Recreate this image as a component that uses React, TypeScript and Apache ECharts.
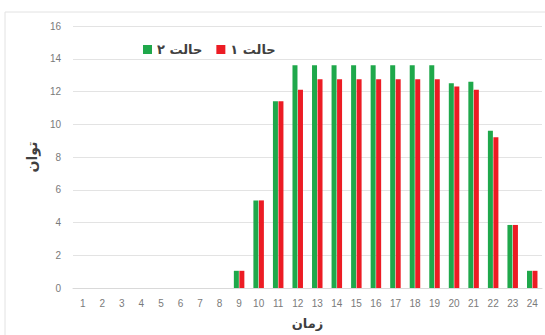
import React, { useEffect, useRef } from "react";
import * as echarts from "echarts";

// Hours of the day
const hours = [
  "1", "2", "3", "4", "5", "6", "7", "8", "9", "10", "11", "12",
  "13", "14", "15", "16", "17", "18", "19", "20", "21", "22", "23", "24",
];

// Power per hour, case 2 (green)
const case2 = [
  0, 0, 0, 0, 0, 0, 0, 0, 1.05, 5.35, 11.4, 13.6,
  13.6, 13.6, 13.6, 13.6, 13.6, 13.6, 13.6, 12.5, 12.6, 9.6, 3.85, 1.05,
];

// Power per hour, case 1 (red)
const case1 = [
  0, 0, 0, 0, 0, 0, 0, 0, 1.05, 5.35, 11.4, 12.1,
  12.75, 12.75, 12.75, 12.75, 12.75, 12.75, 12.75, 12.3, 12.1, 9.2, 3.85, 1.05,
];

const yTicks = { min: 0, max: 16, interval: 2 };

const seriesNames = ["حالت ۲", "حالت ۱"];

export default function App() {
  const ref = useRef<HTMLDivElement>(null);

  useEffect(() => {
    if (!ref.current) return;
    const chart = echarts.init(ref.current, null, { renderer: "svg" });
    const latin = "'Liberation Sans', 'DejaVu Sans', sans-serif";
    const persian = "'DejaVu Sans', sans-serif";
    chart.setOption({
      animation: false,
      backgroundColor: "#ffffff",
      textStyle: { fontFamily: latin },
      graphic: [
        {
          type: "rect",
          shape: { x: 5, y: 12, width: 560, height: 340 },
          style: { fill: "none", stroke: "#e2e2e2", lineWidth: 1 },
          silent: true,
          z: -1,
        },
      ],
      legend: {
        left: 138,
        top: 38,
        itemWidth: 9,
        itemHeight: 9,
        itemGap: 14,
        icon: "rect",
        data: seriesNames,
        textStyle: {
          fontFamily: persian,
          fontSize: 13,
          color: "#404040",
          fontWeight: 600,
        },
      },
      grid: { left: 73, right: 3, top: 26, bottom: 44, containLabel: false },
      xAxis: {
        type: "category",
        data: hours,
        name: "زمان",
        nameLocation: "middle",
        nameGap: 29,
        nameTextStyle: {
          fontFamily: persian,
          fontSize: 13,
          fontWeight: "bold",
          color: "#404040",
        },
        axisLine: { lineStyle: { color: "#d9d9d9" } },
        axisTick: { show: false },
        axisLabel: { color: "#7a7a7a", fontSize: 10, margin: 10, interval: 0 },
      },
      yAxis: {
        type: "value",
        min: yTicks.min,
        max: yTicks.max,
        interval: yTicks.interval,
        name: "توان",
        nameLocation: "middle",
        nameRotate: 90,
        nameGap: 28,
        nameTextStyle: {
          fontFamily: persian,
          fontSize: 14,
          fontWeight: "bold",
          color: "#404040",
        },
        axisLine: { show: false },
        axisTick: { show: false },
        axisLabel: { color: "#7a7a7a", fontSize: 10, margin: 12 },
        splitLine: { lineStyle: { color: "#e3e3e3" } },
      },
      series: [
        {
          name: seriesNames[0],
          type: "bar",
          data: case2,
          barWidth: 5,
          barGap: "10%",
          itemStyle: { color: "#1fa84b" },
        },
        {
          name: seriesNames[1],
          type: "bar",
          data: case1,
          barWidth: 5,
          barGap: "10%",
          itemStyle: { color: "#ec1c24" },
        },
      ],
    });
    return () => chart.dispose();
  }, []);

  return (
    <div
      ref={ref}
      style={{ position: "fixed", left: 0, top: 0, width: 545, height: 335 }}
    />
  );
}
